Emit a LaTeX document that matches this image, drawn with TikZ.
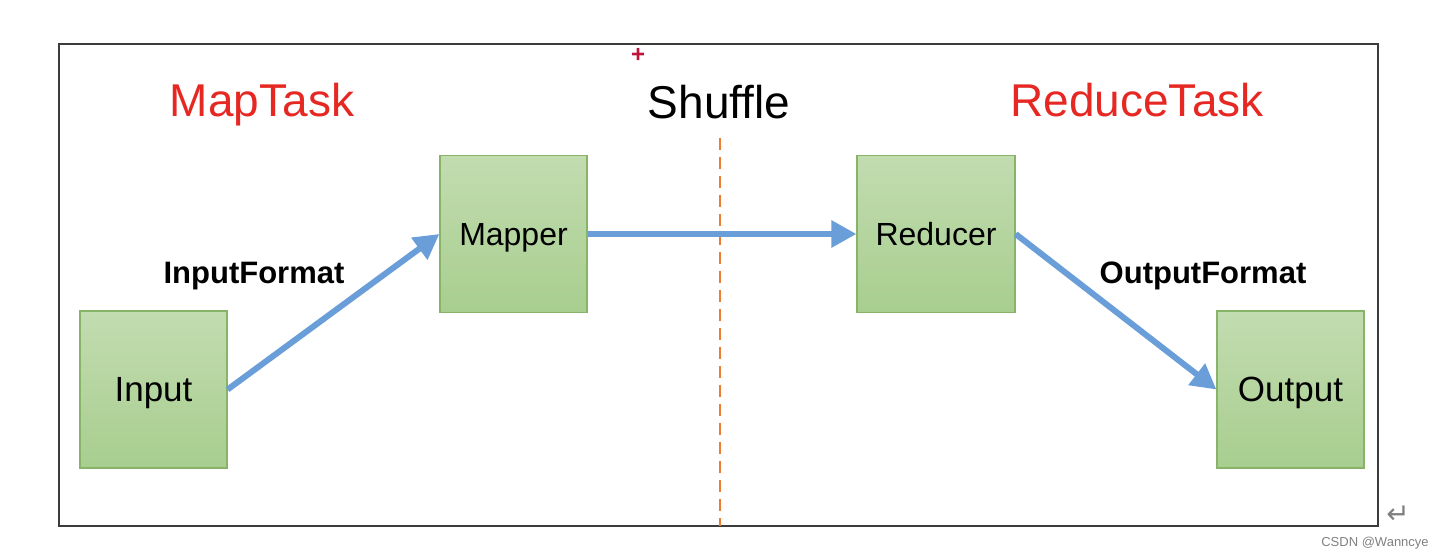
\documentclass[tikz,border=0pt]{standalone}
\usepackage{fontspec}
\setmainfont{Liberation Sans}
\newfontfamily\symfont{DejaVu Sans}
\usetikzlibrary{arrows.meta}
\definecolor{boxtop}{RGB}{194,220,176}
\definecolor{boxbot}{RGB}{168,206,143}
\definecolor{boxline}{RGB}{135,180,105}
\definecolor{flowblue}{RGB}{106,158,216}
\definecolor{titlered}{RGB}{230,40,35}
\definecolor{dashorange}{RGB}{237,125,49}
\definecolor{framegray}{RGB}{60,60,60}
\definecolor{crossred}{RGB}{190,20,60}
\tikzset{
  stagebox/.style={draw=boxline, line width=0.6pt, top color=boxtop, bottom color=boxbot,
    minimum width=73.5pt, minimum height=78.5pt, inner sep=0pt, text=black},
  boxtext/.style={font=\fontsize{16pt}{19pt}\selectfont, text height=11.5pt, text depth=0pt},
  endtext/.style={font=\fontsize{17.5pt}{21pt}\selectfont, text height=12.5pt, text depth=0pt},
  title/.style={font=\fontsize{23pt}{27pt}\selectfont, inner sep=0pt, text height=16.5pt, text depth=0pt},
  fmtlabel/.style={font=\fontsize{15.5pt}{19pt}\selectfont\bfseries, inner sep=0pt, text height=11.1pt, text depth=0pt},
  flow/.style={draw=flowblue, line width=3pt, -{Triangle[length=12.5pt,width=13pt]}},
}
\begin{document}
\begin{tikzpicture}[x=0.5pt, y=-0.5pt]
\useasboundingbox (0,0) rectangle (1444,560);
% frame
\node[draw=framegray, line width=0.8pt, minimum width=659.5pt, minimum height=241pt, inner sep=0pt] (frame) at (718.5,285) {};
% titles
\node[title, text=titlered] (maptask) at (262,100) {MapTask};
\node[title, text=black] (shuffle) at (719,102) {Shuffle};
\node[title, text=titlered] (reducetask) at (1137,100) {ReduceTask};
% boxes
\node[stagebox, endtext] (input) at (153.5,389.5) {Input};
\node[stagebox, boxtext] (mapper) at (513.5,234) {Mapper};
\node[stagebox, boxtext, minimum width=79pt] (reducer) at (936,234) {Reducer};
\node[stagebox, endtext] (output) at (1290.5,389.5) {Output};
% format labels
\node[fmtlabel] (infmt) at (254,272) {InputFormat};
\node[fmtlabel] (outfmt) at (1203,272) {OutputFormat};
% shuffle divider
\coordinate (divtop) at (720,138);
\coordinate (divbot) at (720,526);
\draw[dashorange, line width=1.2pt, dash pattern=on 6pt off 3.5pt] (divtop) -- (divbot);
% arrows
\draw[flow] (input.east) -- (mapper.west);
\draw[flow] (mapper.east) -- (reducer.west);
\draw[flow] (reducer.east) -- (output.west);
% small marks
\node[text=crossred, font=\fontsize{12pt}{14pt}\selectfont\bfseries, inner sep=0pt] (cross) at (638,55) {+};
\node[text=gray, font=\fontsize{14pt}{16pt}\symfont, inner sep=0pt] (retmark) at (1398,515) {↵};
\node[text=gray, font=\fontsize{6.5pt}{8pt}\selectfont, inner sep=0pt] (wm) at (1375,543) {CSDN @Wanncye};
\end{tikzpicture}
\end{document}
